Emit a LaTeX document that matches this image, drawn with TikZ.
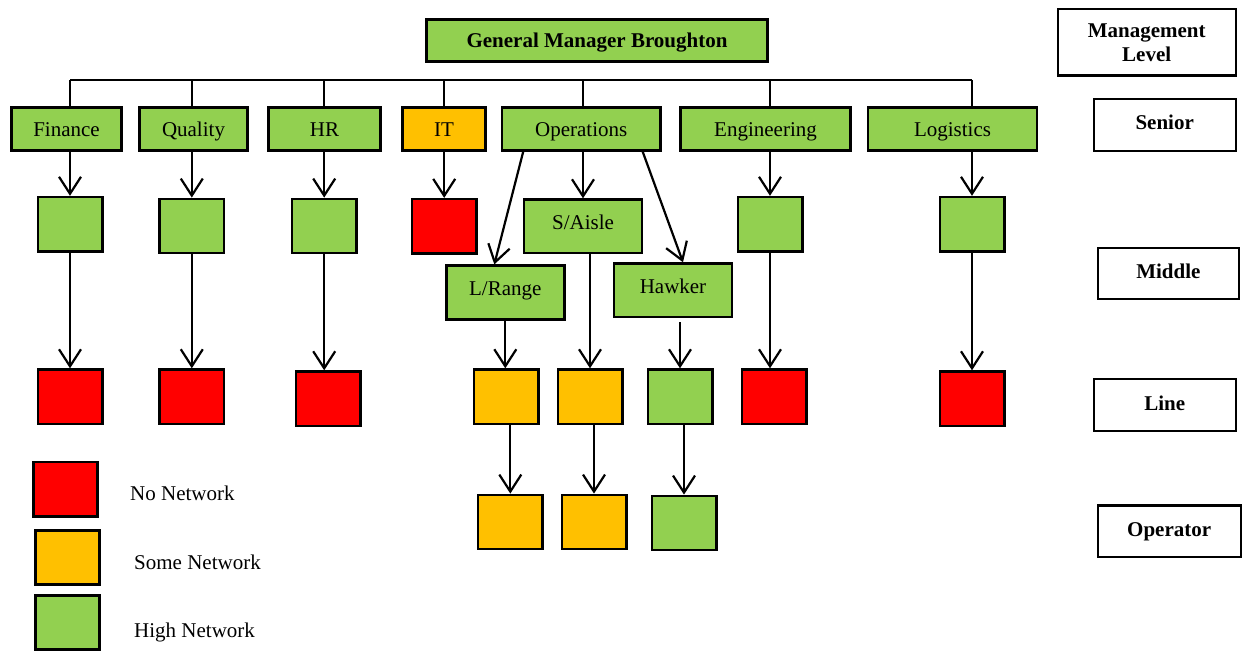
\documentclass[tikz,border=0pt]{standalone}
\usepackage{fontspec}
\setmainfont{Liberation Serif}
\usepackage{tikz}
\usetikzlibrary{arrows.meta}

\definecolor{hinet}{HTML}{92D050}
\definecolor{somenet}{HTML}{FFC000}
\definecolor{nonet}{HTML}{FF0000}

\tikzset{
	box/.style={draw, line width=2.6pt, inner sep=0pt, font=\fontsize{21}{24}\selectfont},
	dept/.style={box, fill=hinet, minimum height=42.6pt, text height=14pt, text depth=0pt},
	sub/.style={dept, minimum width=118pt, minimum height=54pt, text depth=8pt},
	sq/.style={box, minimum width=64.4pt, minimum height=54.2pt},
	lvl/.style={draw, line width=2.2pt, fill=white, inner sep=0pt, minimum width=141.8pt, minimum height=51.4pt, text height=14pt, text depth=4pt, font=\fontsize{21}{24}\selectfont\bfseries},
	key/.style={anchor=base west, inner sep=0pt, font=\fontsize{21}{24}\selectfont},
	wire/.style={line width=2.2pt},
	arr/.style={wire, -{Straight Barb[length=17pt, width=22pt]}}
}

\begin{document}
\begin{tikzpicture}[x=1pt, y=-1pt]
		%%%%% START %%%%%
		\useasboundingbox (0, 0) rectangle (1245, 652);
		
		\node[dept, minimum width=341.4pt, minimum height=42pt, font=\fontsize{21}{24}\selectfont\bfseries] (gm) at (597, 40.7) {General Manager Broughton};
		\coordinate (bus) at (0, 80);
		
		% senior
		\node[dept, minimum width=110pt] (fin) at (66.5, 129.1) {Finance};
		\node[dept, minimum width=108pt] (qual) at (193.5, 129.1) {Quality};
		\node[dept, minimum width=112pt] (hr) at (324.5, 129.1) {HR};
		\node[dept, minimum width=83pt, fill=somenet] (it) at (444, 129.1) {IT};
		\node[dept, minimum width=158.4pt] (ops) at (581.2, 129.1) {Operations};
		\node[dept, minimum width=170pt] (eng) at (765.5, 129.1) {Engineering};
		\node[dept, minimum width=169pt] (log) at (952.5, 129.1) {Logistics};
		
		% middle
		\node[sq, fill=hinet] (fin2) at (70, 224.2) {};
		\node[sq, fill=hinet] (qual2) at (191.8, 226) {};
		\node[sq, fill=hinet] (hr2) at (324.2, 226) {};
		\node[sq, fill=nonet] (it2) at (444.2, 226.3) {};
		\node[sub, minimum height=53.4pt] (aisle) at (583, 226.3) {S/Aisle};
		\node[sq, fill=hinet] (eng2) at (770, 224.2) {};
		\node[sq, fill=hinet] (log2) at (972, 224.2) {};
		\node[sub] (lr) at (505.3, 292.7) {L/Range};
		\node[sub, minimum height=53.4pt] (hawk) at (673, 290.3) {Hawker};
		
		% line
		\node[sq, fill=nonet] (fin3) at (70, 396.7) {};
		\node[sq, fill=nonet] (qual3) at (191.8, 396.7) {};
		\node[sq, fill=nonet] (hr3) at (328.2, 398.7) {};
		\node[sq, fill=somenet] (lr3) at (506, 396.7) {};
		\node[sq, fill=somenet] (aisle3) at (590, 396.7) {};
		\node[sq, fill=hinet] (hawk3) at (680, 396.7) {};
		\node[sq, fill=nonet] (eng3) at (774, 396.7) {};
		\node[sq, fill=nonet] (log3) at (972, 398.7) {};
		
		% operator
		\node[sq, fill=somenet] (lr4) at (510.3, 522) {};
		\node[sq, fill=somenet] (aisle4) at (594, 522) {};
		\node[sq, fill=hinet] (hawk4) at (684, 523) {};
		
		% connectors
		\draw[wire] (fin2 |- bus) -- (log2 |- bus);
		\foreach \a/\b in {fin/fin2, qual/qual2, hr/hr2, it/it2, ops/aisle, eng/eng2, log/log2} {
			\draw[wire] (\b |- bus) -- (\b |- \a.north);
			\draw[arr] (\b |- \a.south) -- (\b.north);
		}
		\foreach \a/\b in {fin2/fin3, qual2/qual3, hr2/hr3, eng2/eng3, log2/log3}
			\draw[arr] (\a.south) -- (\a.south |- \b.north);
		
		\draw[arr] ([xshift=-58pt]ops.south) -- ([xshift=-11pt]lr.north);
		\draw[arr] ([xshift=61.5pt]ops.south) -- ([xshift=10pt]hawk.north);
		\draw[arr] (lr.south) -- (lr.south |- lr3.north);
		\draw[arr] (aisle3.north |- aisle.south) -- (aisle3.north);
		\draw[arr, shorten <=4pt] (hawk3.north |- hawk.south) -- (hawk3.north);
		\foreach \n in {lr, aisle, hawk}
			\draw[arr] (\n4.north |- \n3.south) -- (\n4.north);
		
		% levels
		\node[draw, line width=2.2pt, inner sep=0pt, minimum width=177.8pt, minimum height=66.2pt, align=center, font=\fontsize{21}{24}\selectfont\bfseries] (mgmt) at (1146.7, 42.5) {Management\\Level};
		\node[lvl] (senior) at (1164.7, 125) {Senior};
		\node[lvl, minimum width=141pt] (middle) at (1168.4, 273.7) {Middle};
		\node[lvl] (lvline) at (1164.7, 405) {Line};
		\node[lvl, minimum width=142.8pt] (operator) at (1169.2, 531.2) {Operator};
		
		% key
		\node[sq, fill=nonet] (keyno) at (65.5, 489.2) {};
		\node[sq, fill=somenet] (keysome) at (67.5, 557.3) {};
		\node[sq, fill=hinet] (keyhigh) at (67.5, 622.3) {};
		\node[key] (txtno) at (130, 500) {No Network};
		\node[key] (txtsome) at (134, 569.3) {Some Network};
		\node[key] (txthigh) at (134, 637.3) {High Network};
		
		%%%%% END %%%%%
\end{tikzpicture}
\end{document}
